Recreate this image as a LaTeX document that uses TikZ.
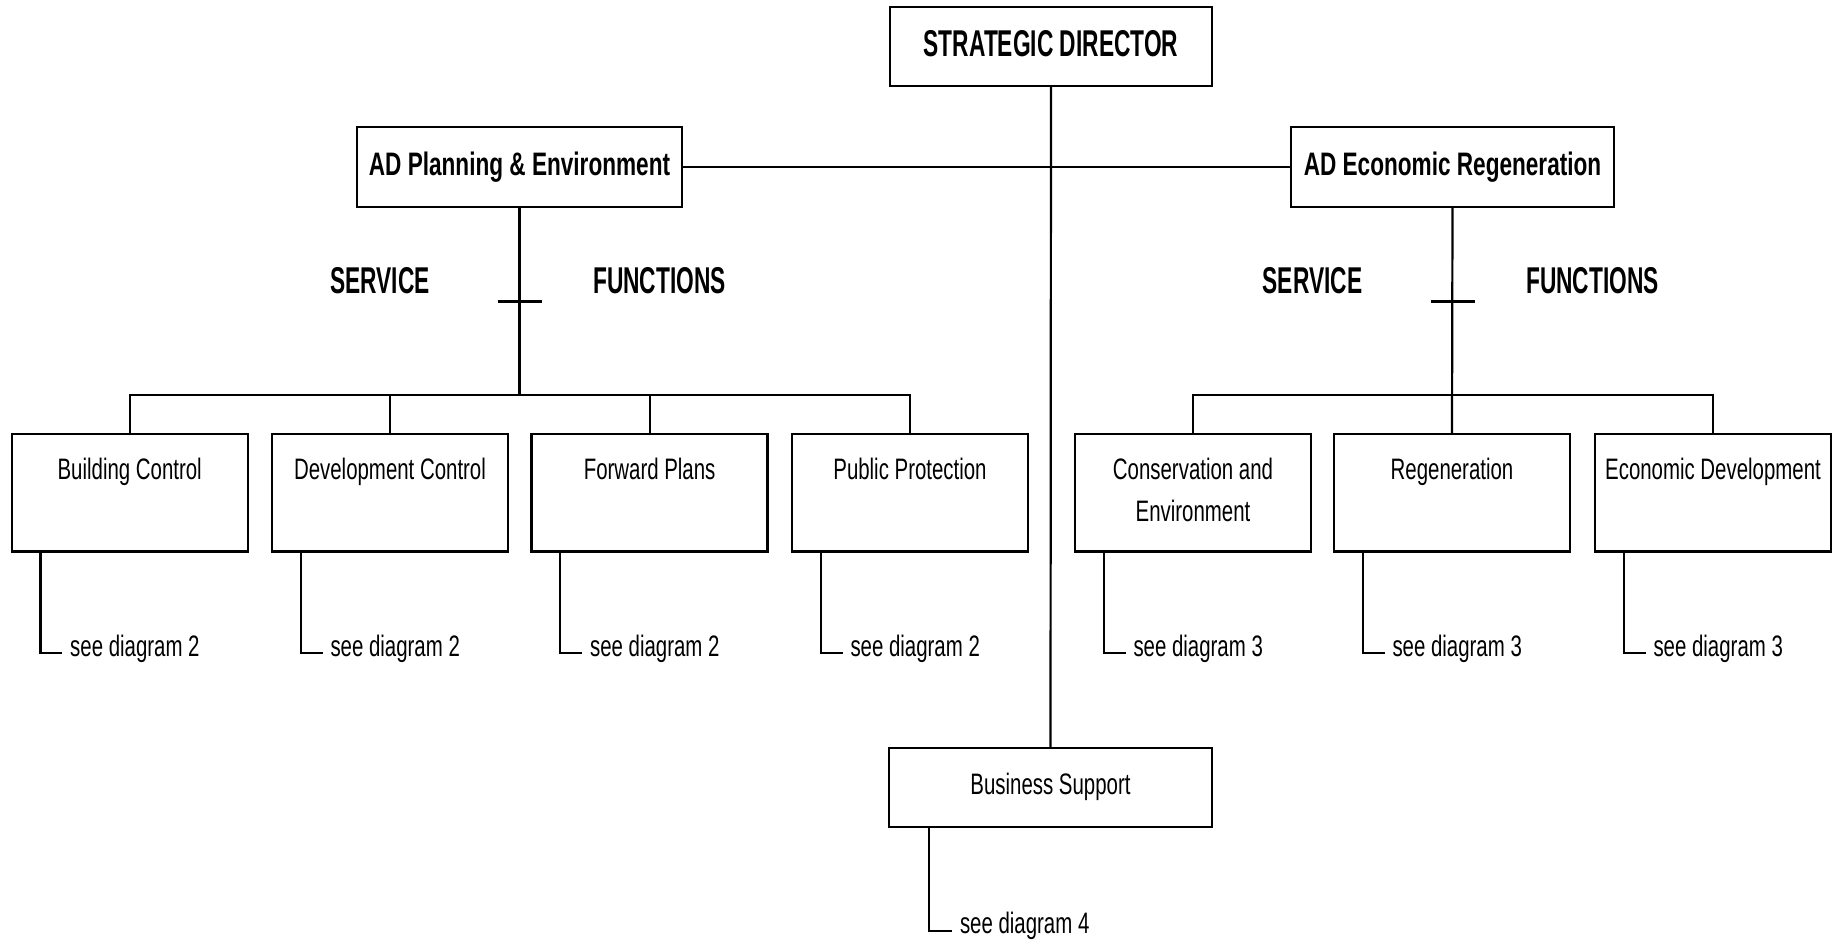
\documentclass[tikz,border=0pt]{standalone}
\usepackage{fontspec}
\usetikzlibrary{calc}
\newfontfamily\fa[FakeStretch=0.69]{Liberation Sans}
\newfontfamily\fb[FakeStretch=0.61]{Liberation Sans}
\newfontfamily\fc[FakeStretch=0.695]{Liberation Sans}
\tikzset{
  box/.style={draw, line width=2.4pt, inner sep=0pt, outer sep=0pt, anchor=north west},
  regtext/.style={font=\fa\fontsize{29.6}{42}\selectfont},
  bigbold/.style={font=\fb\bfseries\fontsize{37.3}{44}\selectfont},
  adbold/.style={font=\fc\bfseries\fontsize{32.5}{40}\selectfont},
  childbox/.style={box, regtext, minimum width=236pt, text height=45pt, text depth=72.5pt},
  conn/.style={line width=2.2pt},
  tickmark/.style={line width=3pt},
  seetext/.style={regtext, anchor=base west, inner ysep=0pt, inner xsep=8pt, outer sep=0pt, text height=20pt, text depth=13.4pt},
}
\begin{document}
\begin{tikzpicture}[x=1pt, y=-1pt]
\useasboundingbox (0,0) rectangle (1840,942);
% top level
\node[box, bigbold, minimum width=322pt, text height=49.7pt, text depth=29.3pt] (sd) at (890,7) {STRATEGIC DIRECTOR};
\node[box, adbold, minimum width=325pt, text height=48pt, text depth=32pt] (adp) at (357,127) {AD Planning \& Environment};
\node[box, adbold, minimum width=323pt, text height=48pt, text depth=32pt] (ade) at (1291,127) {AD Economic Regeneration};
\node[box, regtext, minimum width=323pt, text height=46pt, text depth=33pt] (bs) at (889,748) {Business Support};
% service / functions labels
\node[bigbold, anchor=base] (svl) at (380,293.3) {SERVICE};
\node[bigbold, anchor=base] (fnl) at (659.5,293.3) {FUNCTIONS};
\node[bigbold, anchor=base] (svr) at (1312.5,293.3) {SERVICE};
\node[bigbold, anchor=base] (fnr) at (1592.5,293.3) {FUNCTIONS};
% children left
\node[childbox] (bc) at (11.7,434) {Building Control};
\node[childbox] (dc) at (272,434) {Development Control};
\node[childbox] (fp) at (531.6,434) {Forward Plans};
\node[childbox] (pp) at (792,434) {Public Protection};
% children right
\node[childbox] (ce) at (1075,434) {\begin{tabular}[t]{@{}c@{}}Conservation and\\Environment\end{tabular}};
\node[childbox] (rg) at (1334,434) {Regeneration};
\node[childbox] (ed) at (1595,434) {Economic Development};
% see diagram labels
\node[seetext] (s1) at (62.2,656) {see diagram 2};
\node[seetext] (s2) at (322.5,656) {see diagram 2};
\node[seetext] (s3) at (582.1,656) {see diagram 2};
\node[seetext] (s4) at (842.5,656) {see diagram 2};
\node[seetext] (s5) at (1125.5,656) {see diagram 3};
\node[seetext] (s6) at (1384.5,656) {see diagram 3};
\node[seetext] (s7) at (1645.5,656) {see diagram 3};
\node[seetext, text height=18pt, text depth=13.4pt] (s8) at (952,933) {see diagram 4};
% bus coordinates
\coordinate (busy) at (0,395);
% connectors
\draw[conn] (sd.south) -- (bs.north);
\draw[conn] (adp.east) -- (ade.west);
\draw[conn] (adp.south) -- (adp.south |- busy);
\draw[conn] (ade.south) -- (rg.north);
\draw[tickmark] ($(adp.south)+(-22,94.6)$) -- ($(adp.south)+(22,94.6)$);
\draw[tickmark] ($(ade.south)+(-22,94.6)$) -- ($(ade.south)+(22,94.6)$);
\draw[conn] (bc.north) |- (busy -| pp.north) -- (pp.north);
\draw[conn] (dc.north) -- (dc.north |- busy);
\draw[conn] (fp.north) -- (fp.north |- busy);
\draw[conn] (ce.north) |- (busy -| ed.north) -- (ed.north);
% see-diagram connectors
\draw[conn] ([xshift=28.7pt]bc.south west) |- (s1.west);
\draw[conn] ([xshift=28.7pt]dc.south west) |- (s2.west);
\draw[conn] ([xshift=28.7pt]fp.south west) |- (s3.west);
\draw[conn] ([xshift=28.7pt]pp.south west) |- (s4.west);
\draw[conn] ([xshift=28.7pt]ce.south west) |- (s5.west);
\draw[conn] ([xshift=28.7pt]rg.south west) |- (s6.west);
\draw[conn] ([xshift=28.7pt]ed.south west) |- (s7.west);
\draw[conn] ([xshift=40.3pt]bs.south west) |- (s8.west);
\end{tikzpicture}
\end{document}
